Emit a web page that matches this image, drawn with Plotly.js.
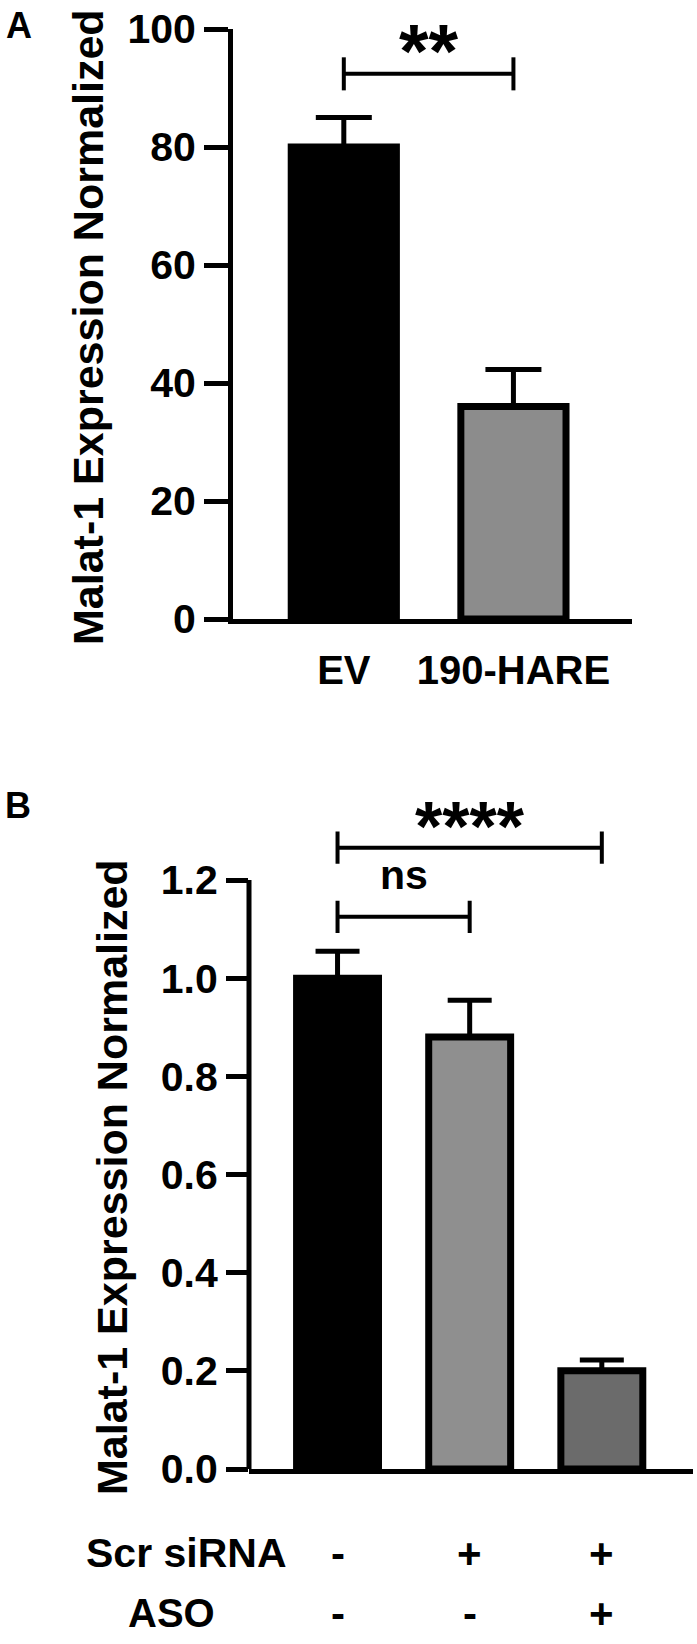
<!DOCTYPE html>
<html>
<head>
<meta charset="utf-8">
<script src="https://cdn.plot.ly/plotly-3.0.1.min.js"></script>
<style>
  html, body { margin: 0; padding: 0; background: #fff; }
  #chart { width: 697px; height: 1644px; }
</style>
</head>
<body>
<div id="chart"></div>
<script>
// panel A
var catsA = ['EV', '190-HARE'];
var valsA = [80, 36];
var errsA = [5, 6.3];
var fillsA = ['#000000', '#8c8c8c'];
var ticksA = [0, 20, 40, 60, 80, 100];
// [from, to, height, label]
var bracketsA = [[0, 1, 92.4, '**']];

// panel B
var catsB = [0, 1, 2];
var valsB = [1.0, 0.88, 0.2];
var errsB = [0.055, 0.075, 0.022];
var fillsB = ['#000000', '#8f8f8f', '#6b6b6b'];
var ticksB = [0, 0.2, 0.4, 0.6, 0.8, 1.0, 1.2];
var scrSiRNA = ['-', '+', '+'];
var aso = ['-', '-', '+'];
var bracketsB = [[0, 1, 1.125, 'ns'], [0, 2, 1.266, '****']];

var W = 697, H = 1644;
var FONT = 'Liberation Sans, Arial, Helvetica, sans-serif';
function px(x) { return x / W; }
function py(y) { return 1 - y / H; }
function f(size) { return {family: FONT, size: size, color: '#000', weight: 'bold'}; }

var traceA = {
  type: 'bar', x: catsA, y: valsA, width: 0.62,
  marker: {color: fillsA, line: {color: '#000', width: 7}},
  error_y: {type: 'data', array: errsA, arrayminus: [0, 0], symmetric: false,
            color: '#000', thickness: 5, width: 28},
  xaxis: 'x', yaxis: 'y', hoverinfo: 'none'
};
var traceB = {
  type: 'bar', x: catsB, y: valsB, width: 0.62,
  marker: {color: fillsB, line: {color: '#000', width: 7}},
  error_y: {type: 'data', array: errsB, arrayminus: [0, 0, 0], symmetric: false,
            color: '#000', thickness: 5, width: 22},
  xaxis: 'x2', yaxis: 'y2', hoverinfo: 'none'
};

var shapes = [];
var annotations = [];

function note(o) {
  o.showarrow = false;
  o.xanchor = 'center';
  o.yanchor = 'middle';
  annotations.push(o);
}

function addBrackets(list, xr, yr, capH, fontSize, textLift) {
  list.forEach(function (b) {
    var line = {color: '#000', width: 4};
    shapes.push({type: 'line', xref: xr, yref: yr, x0: b[0], x1: b[1], y0: b[2], y1: b[2], line: line});
    shapes.push({type: 'line', xref: xr, yref: yr, x0: b[0], x1: b[0], y0: b[2] - capH, y1: b[2] + capH, line: line});
    shapes.push({type: 'line', xref: xr, yref: yr, x0: b[1], x1: b[1], y0: b[2] - capH, y1: b[2] + capH, line: line});
    note({xref: xr, yref: yr, x: (b[0] + b[1]) / 2, y: b[2] + textLift, text: b[3],
          font: f(b[3].indexOf('*') >= 0 ? fontSize : 41)});
  });
}
addBrackets(bracketsA, 'x', 'y', 2.8, 76, 4.0);
// y axis line of panel B stops at 1.2 while the plot leaves room for brackets
shapes.push({type: 'line', xref: 'paper', yref: 'y2', x0: px(249), x1: px(249), y0: 0, y1: 1.2,
             line: {color: '#000', width: 5}});
bracketsB.forEach(function (b) {
  var lift = b[3] === 'ns' ? 0.085 : 0.042;
  addBrackets([b], 'x2', 'y2', 0.033, 70, lift);
});

// panel letters and y titles
note({xref: 'paper', yref: 'paper', x: px(19), y: py(25), text: 'A', font: f(36)});
note({xref: 'paper', yref: 'paper', x: px(18), y: py(805), text: 'B', font: f(36)});
note({xref: 'paper', yref: 'paper', x: px(88), y: py(327), text: 'Malat-1 Expression Normalized',
      textangle: -90, font: f(43)});
note({xref: 'paper', yref: 'paper', x: px(112), y: py(1177), text: 'Malat-1 Expression Normalized',
      textangle: -90, font: f(43)});

// treatment rows under panel B
note({xref: 'paper', yref: 'paper', x: px(186), y: py(1553), text: 'Scr siRNA', font: f(41)});
note({xref: 'paper', yref: 'paper', x: px(171), y: py(1613), text: 'ASO', font: f(40)});
catsB.forEach(function (c, i) {
  note({xref: 'x2', yref: 'paper', x: c, y: py(1553), text: scrSiRNA[i], font: f(42)});
  note({xref: 'x2', yref: 'paper', x: c, y: py(1613), text: aso[i], font: f(42)});
});

var layout = {
  width: W, height: H, autosize: false,
  margin: {l: 0, r: 0, t: 0, b: 0},
  paper_bgcolor: '#fff', plot_bgcolor: '#fff',
  showlegend: false,
  xaxis: {
    domain: [px(233), px(632)], range: [-0.668 + 2.5 / 169.5, 1.699], type: 'category',
    showline: true, linewidth: 5, linecolor: '#000', ticks: '', showgrid: false, zeroline: false,
    tickfont: f(40), ticklabelstandoff: 12, anchor: 'y', fixedrange: true
  },
  yaxis: {
    domain: [py(619), py(29)], range: [0, 100], tickvals: ticksA,
    showline: true, linewidth: 5, linecolor: '#000', ticks: 'outside', ticklen: 24,
    tickwidth: 5, tickcolor: '#000', showgrid: false, zeroline: false,
    tickfont: f(41), anchor: 'x', fixedrange: true
  },
  xaxis2: {
    domain: [px(249), px(693)], range: [-0.67, 2.69],
    showline: true, linewidth: 5, linecolor: '#000', ticks: '', showticklabels: false,
    showgrid: false, zeroline: false, anchor: 'y2', fixedrange: true
  },
  yaxis2: {
    domain: [py(1469), py(1469 - 1.36 * 490.8)], range: [0, 1.36], tickvals: ticksB,
    tickformat: '.1f', showline: false, ticks: 'outside', ticklen: 22,
    tickwidth: 5, tickcolor: '#000', showgrid: false, zeroline: false,
    tickfont: f(41), anchor: 'x2', fixedrange: true
  },
  shapes: shapes,
  annotations: annotations
};

Plotly.newPlot('chart', [traceA, traceB], layout, {staticPlot: true});
</script>
</body>
</html>
